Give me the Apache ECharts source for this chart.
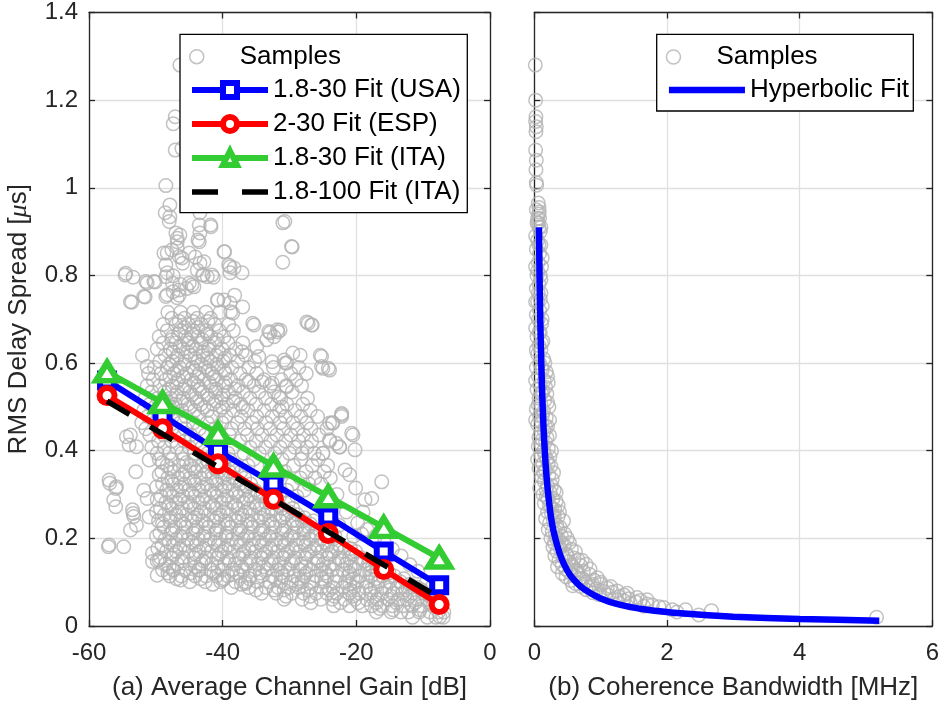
<!DOCTYPE html>
<html><head><meta charset="utf-8">
<script src="https://cdn.jsdelivr.net/npm/echarts@6/dist/echarts.min.js"></script>
<style>html,body{margin:0;padding:0;background:#fff}#c{width:942px;height:709px}</style>
</head><body><div id="c"></div>
<script>
// ---------- tick labels ----------
const yTicks = [0, 0.2, 0.4, 0.6, 0.8, 1, 1.2, 1.4];
const xTicksGain = [-60, -40, -20, 0];
const xTicksBw = [0, 2, 4, 6];

// ---------- panel (a): fits ----------
const fitGain = [-57.3, -49.0, -40.7, -32.4, -24.2, -15.9, -7.6];
const fitUSA = [0.56, 0.48, 0.40, 0.325, 0.25, 0.17, 0.093];
const fitESP = [0.526, 0.45, 0.37, 0.289, 0.211, 0.129, 0.049];
const fitITA = [0.58, 0.51, 0.44, 0.365, 0.295, 0.225, 0.155];
const fitITA100Gain = [-57.3, -7.6];
const fitITA100 = [0.513, 0.065];

// ---------- panel (a): samples (isolated points read individually) ----------
const gainSamplesSparse = [[-46.4,1.28],[-47.1,1.162],[-47.4,1.146],[-47.1,1.086],[-46.1,1.09],[-48.5,1.005],[-47.9,0.961],[-48.6,0.943],[-47.9,0.934],[-43.4,0.943],[-41.75,0.911],[-43.4,0.897],[-43.7,0.881],[-46.8,0.885],[-46.4,0.892],[-31,0.92],[-29.6,0.865],[-31,0.83],[-39.7,0.854],[-38.9,0.82],[-37.1,0.806],[-38.9,0.806],[-48.3,0.851],[-46.8,0.863],[-46.1,0.84],[-44.1,0.842],[-43.4,0.828],[-43.8,0.812],[-42.9,0.801],[-41.4,0.796],[-54.6,0.801],[-53.4,0.796],[-51.3,0.783],[-50.1,0.785],[-53.6,0.739],[-51.6,0.751],[-48.3,0.806],[-47.4,0.799],[-46.4,0.78],[-47.4,0.763],[-48.3,0.756],[-46.8,0.749],[-45.4,0.77],[-44.6,0.778],[-40.7,0.744],[-38.9,0.737],[-38.2,0.755],[-37,0.728],[-38.5,0.714],[-27.4,0.694],[-26.6,0.687],[-32.9,0.669],[-31.7,0.671],[-33.4,0.653],[-35.5,0.691],[-34.9,0.637],[-29.5,0.623],[-25.4,0.618],[-28.4,0.618],[-48,0.923],[-43.5,0.915],[-41.8,0.915],[-43.5,0.877],[-47,0.897],[-46.8,0.877],[-47.6,0.858],[-39.8,0.854],[-39.1,0.824],[-38.3,0.817],[-48.8,0.851],[-48.5,0.824],[-46.5,0.843],[-46,0.828],[-45,0.851],[-42.8,0.831],[-43,0.801],[-41.6,0.801],[-42.3,0.797],[-54.5,0.805],[-51.5,0.786],[-50.3,0.786],[-48.5,0.797],[-47.5,0.782],[-46.5,0.767],[-45,0.782],[-44.3,0.774],[-53.8,0.74],[-51.8,0.752],[-48.5,0.752],[-46.5,0.755],[-40.8,0.744],[-39.8,0.744],[-38.8,0.717],[-35.3,0.687],[-33.1,0.672],[-31.8,0.676],[-32.3,0.66],[-30.6,0.6],[-52,0.618],[-51.3,0.592],[-37.1,0.626],[-34.6,0.615],[-32.6,0.603],[-30.8,0.607],[-36.1,0.557],[-34.1,0.557],[-32.6,0.554],[-31.6,0.523],[-31.1,0.5],[-30.7,0.923],[-29.7,0.866],[-27.2,0.691],[-26.7,0.687],[-31.4,0.675],[-25.2,0.615],[-25,0.588],[-24,0.584],[-22.2,0.485],[-30.4,0.6],[-30.4,0.546],[-24.2,0.588],[-25.2,0.592],
[-53.8,0.436],[-54,0.413],[-53,0.352],[-57,0.333],[-56,0.314],[-56.3,0.288],[-56,0.272],[-53.5,0.265],[-53.3,0.25],[-53.8,0.219],[-57,0.185],[-54.8,0.181],[-50.5,0.166],[-49.5,0.151],[-49.8,0.116],[-46.3,0.105],[-50.5,0.147],[-51,0.379],[-51.8,0.31],[-51.3,0.291],[-51,0.249],[-36.6,0.097],[-32.3,0.082],[-40,0.105],[-43.5,0.128],[-54.4,0.432],[-52.9,0.409],[-56.9,0.326],[-55.9,0.318],[-57.1,0.181],[-52.9,0.23],[-53.4,0.257],[-47.4,0.128],
[-22.2,0.482],[-20.7,0.44],[-20.2,0.402],[-16.2,0.329],[-17.7,0.291],[-18.7,0.288],[-21,0.345],[-21.7,0.356],[-24,0.463],[-23,0.417],[-25,0.394],[-16.5,0.04],[-14.5,0.037],[-10.5,0.037],[-7.5,0.021],[-23.5,0.463],[-24,0.425],[-22.5,0.409],
[-21.5,0.26],[-19.8,0.235],[-18.4,0.22],[-22.6,0.23],[-20.4,0.205],[-17.1,0.205],[-15.8,0.19],[-14.6,0.175],[-19,0.26],[-13.3,0.16],[-12,0.14],[-10.8,0.125],[-9.5,0.1],[-8.6,0.09],[-23.8,0.27],[-22.9,0.3],[-20.1,0.315],[-19.2,0.21]];

// ---------- panel (a): samples in the dense cloud, read row by row: [delay spread, [gains...]] ----------
const gainSampleRows = [
 [0.020, [-11.6,-9.4,-8.1,-7.0]],
 [0.032, [-17.0,-14.8,-13.3,-12.2,-10.6,-9.0,-7.7,-6.9]],
 [0.046, [-23.4,-21.0,-19.1,-17.7,-16.1,-14.6,-13.0,-11.7,-10.2,-8.6,-7.4]],
 [0.053, [-26.8,-22.4,-19.7,-17.0,-14.0,-11.2,-8.9]],
 [0.061, [-30.8,-28.1,-25.3,-23.6,-21.8,-20.2,-18.4,-16.9,-15.3,-13.7,-12.4,-10.9,-9.5,-8.2]],
 [0.068, [-30.5,-26.9,-23.3,-20.5,-17.3,-14.8,-12.0,-9.0]],
 [0.075, [-34.2,-32.0,-29.6,-27.9,-26.0,-24.4,-22.9,-21.1,-19.6,-17.8,-16.2,-14.5,-13.1,-11.5,-9.9]],
 [0.082, [-35.0,-30.8,-27.3,-24.0,-20.9,-17.9,-15.0,-12.6,-10.2]],
 [0.088, [-38.7,-36.1,-33.5,-31.7,-30.1,-28.6,-26.8,-25.2,-23.5,-22.0,-20.3,-18.6,-17.2,-15.6,-13.9,-12.3,-10.8]],
 [0.095, [-41.5,-37.2,-29.0,-21.0,-12.0]],
 [0.101, [-44.9,-42.6,-40.3,-38.1,-36.6,-34.8,-33.0,-31.3,-29.7,-28.1,-26.5,-24.7,-23.2,-21.6,-19.9,-18.3,-16.7,-15.0,-13.4]],
 [0.108, [-46.9,-43.3,-39.8,-36.0,-32.1,-28.7,-25.2,-20.5,-17.1,-12.9]],
 [0.114, [-47.9,-46.2,-44.1,-42.5,-40.9,-39.2,-37.4,-35.9,-34.2,-32.6,-31.0,-29.3,-27.8,-26.0,-24.4,-22.9,-21.2,-19.5,-17.8,-16.0,-14.3]],
 [0.121, [-48.2,-44.8,-41.3,-37.9,-34.4,-31.2,-27.5,-24.6,-21.0,-18.0,-15.1]],
 [0.128, [-49.0,-47.3,-45.7,-43.6,-41.8,-40.1,-38.5,-36.9,-35.2,-33.4,-31.8,-30.2,-28.5,-26.9,-25.3,-23.6,-22.0,-20.3,-18.7,-17.0]],
 [0.135, [-48.0,-44.1,-40.7,-37.2,-33.9,-30.7,-27.6,-24.1,-20.9,-17.6]],
 [0.142, [-48.5,-46.8,-44.9,-43.2,-41.6,-39.7,-38.1,-36.4,-34.7,-33.1,-31.5,-29.8,-28.2,-26.4,-24.9,-23.2,-21.5,-19.9,-18.2,-16.4]],
 [0.149, [-49.8,-46.1,-42.9,-39.1,-35.9,-32.7,-29.5,-25.7,-22.1,-18.8]],
 [0.156, [-49.3,-47.6,-45.9,-44.3,-42.5,-40.8,-39.3,-37.5,-35.8,-34.2,-32.4,-30.9,-29.2,-27.6,-25.9,-24.3,-22.6,-21.0,-19.3]],
 [0.163, [-47.3,-44.0,-40.5,-37.0,-33.8,-30.6,-27.3,-24.0,-20.6]],
 [0.170, [-48.4,-46.9,-45.1,-43.5,-41.7,-40.1,-38.4,-36.8,-35.1,-33.5,-31.8,-30.2,-28.5,-26.9,-25.2,-23.6,-21.9,-20.1]],
 [0.177, [-49.7,-46.4,-42.8,-39.6,-36.1,-32.9,-29.6,-26.3,-23.0,-20.9]],
 [0.184, [-49.1,-47.4,-45.8,-44.0,-42.4,-40.7,-39.1,-37.4,-35.7,-34.1,-32.5,-30.8,-29.1,-27.6,-25.9,-24.3,-22.5]],
 [0.191, [-48.0,-44.6,-41.2,-37.9,-34.5,-31.2,-27.9,-24.7]],
 [0.198, [-48.6,-46.9,-45.2,-43.6,-41.9,-40.3,-38.6,-36.9,-35.3,-33.6,-32.0,-30.3,-28.7,-27.0,-25.3,-23.5]],
 [0.205, [-49.9,-46.3,-42.9,-39.5,-36.4,-33.1,-29.8,-26.6,-23.2]],
 [0.212, [-49.4,-47.7,-46.0,-44.4,-42.7,-41.0,-39.4,-37.7,-36.1,-34.4,-32.8,-31.1,-29.4,-27.8,-26.1,-24.6]],
 [0.219, [-47.5,-44.0,-40.9,-37.4,-34.0,-30.8,-27.8,-25.4]],
 [0.226, [-48.8,-47.1,-45.5,-43.8,-42.1,-40.5,-38.8,-37.2,-35.5,-33.9,-32.2,-30.6,-28.9,-27.2]],
 [0.233, [-49.0,-45.8,-42.5,-39.2,-35.8,-32.6,-29.3,-26.9]],
 [0.240, [-49.6,-47.9,-46.3,-44.6,-43.0,-41.3,-39.6,-38.0,-36.3,-34.7,-33.0,-31.4,-29.6,-28.1,-26.4]],
 [0.247, [-47.8,-44.2,-40.9,-37.6,-34.3,-31.0,-27.8]],
 [0.254, [-48.7,-47.0,-45.4,-43.7,-42.1,-40.4,-38.8,-37.1,-35.5,-33.8,-32.1,-30.5,-28.8]],
 [0.261, [-49.9,-46.5,-43.2,-39.9,-36.6,-33.2,-30.0]],
 [0.268, [-49.3,-47.6,-46.0,-44.3,-42.7,-41.0,-39.4,-37.7,-36.0,-34.4,-32.7,-31.1,-29.5]],
 [0.275, [-48.0,-44.9,-41.5,-38.1,-34.9,-31.6]],
 [0.282, [-48.5,-46.9,-45.2,-43.6,-41.9,-40.2,-38.6,-36.9,-35.3,-33.6,-32.0,-30.2]],
 [0.289, [-49.8,-46.4,-43.0,-39.8,-36.4,-33.0]],
 [0.296, [-49.2,-47.5,-45.9,-44.2,-42.6,-40.9,-39.3,-37.6,-35.9,-34.3,-31.5,-28.9]],
 [0.303, [-47.9,-44.6,-41.3,-38.0,-34.7]],
 [0.310, [-48.4,-46.8,-45.1,-43.5,-41.8,-40.1,-38.5,-36.8,-35.2,-33.0,-30.4,-27.8]],
 [0.317, [-49.9,-46.3,-43.0,-39.7,-36.4]],
 [0.324, [-49.0,-47.4,-45.7,-44.1,-42.4,-40.8,-39.1,-37.4,-35.8,-29.6,-27.1,-25.3]],
 [0.331, [-47.6,-44.3,-41.0,-37.8]],
 [0.338, [-48.2,-46.6,-44.9,-43.3,-41.6,-40.0,-38.4,-36.7,-31.8,-28.4,-26.2,-23.9]],
 [0.345, [-49.5,-46.0,-42.7,-39.6]],
 [0.352, [-49.1,-47.3,-45.6,-44.0,-42.3,-40.6,-39.0,-37.3,-30.7,-27.5,-24.8]],
 [0.359, [-47.8,-44.3,-41.1,-38.5]],
 [0.366, [-48.3,-46.5,-44.8,-43.1,-41.5,-39.8,-38.1,-36.2,-32.9,-29.4,-26.6,-24.3]],
 [0.373, [-49.0,-45.4,-42.1]],
 [0.380, [-49.5,-47.6,-45.9,-44.2,-42.4,-40.7,-38.9,-35.4,-31.1,-28.3,-25.7]],
 [0.394, [-49.8,-48.0,-46.1,-44.3,-42.2,-39.2,-36.8,-34.5,-32.2,-30.0,-28.1,-26.3,-25.0]],
 [0.408, [-50.6,-48.7,-46.9,-45.0,-43.1,-38.4,-35.9,-33.6,-31.4,-29.2,-27.4,-22.5]],
 [0.422, [-49.6,-47.6,-45.7,-43.9,-40.3,-37.4,-35.0,-32.8,-30.6,-28.6,-26.7,-24.0]],
 [0.436, [-50.9,-48.8,-46.6,-44.8,-42.6,-39.0,-36.3,-34.1,-31.9,-29.8,-27.9,-25.6,-20.5]],
 [0.450, [-51.5,-49.3,-47.6,-45.6,-43.5,-41.2,-38.7,-36.7,-34.8,-32.9,-30.9,-28.8,-26.8,-24.4]],
 [0.464, [-52.1,-50.1,-48.2,-46.3,-44.4,-42.3,-40.1,-37.8,-35.6,-33.5,-31.4,-29.5,-27.4,-23.6]],
 [0.478, [-51.2,-49.4,-47.5,-45.5,-43.6,-41.6,-39.5,-37.2,-34.9,-32.6,-30.6,-28.3,-25.8,-22.2]],
 [0.492, [-51.8,-49.9,-48.0,-46.1,-44.2,-42.3,-40.4,-38.4,-36.2,-33.8,-31.5,-29.2,-26.9]],
 [0.499, [-47.4,-44.9,-42.8,-40.0,-37.0]],
 [0.506, [-50.9,-49.0,-47.1,-45.2,-43.3,-41.4,-39.4,-37.3,-35.0,-32.7,-30.4,-28.0]],
 [0.513, [-48.4,-46.2,-43.8,-41.0,-38.4]],
 [0.520, [-51.6,-49.7,-47.8,-45.9,-44.0,-42.1,-40.2,-38.1,-35.9,-33.6,-31.3,-27.3]],
 [0.527, [-47.0,-44.6,-42.3,-39.9]],
 [0.534, [-50.6,-48.7,-46.8,-44.9,-43.0,-41.1,-39.1,-36.9,-34.6,-32.3,-29.6]],
 [0.541, [-48.0,-45.8,-43.4,-41.0,-38.2]],
 [0.548, [-51.3,-49.4,-47.5,-45.6,-43.7,-41.8,-39.8,-37.7,-35.3,-32.9,-30.5,-28.2]],
 [0.555, [-46.9,-44.3,-42.0,-39.6]],
 [0.562, [-50.4,-48.5,-46.6,-44.7,-42.8,-40.9,-38.8,-36.5,-33.8,-31.2,-29.0]],
 [0.569, [-47.9,-45.9,-43.8,-41.3]],
 [0.576, [-51.1,-49.2,-47.3,-45.4,-43.5,-41.6,-39.6,-37.4,-34.9,-29.8,-27.5]],
 [0.583, [-46.8,-44.2,-42.1,-39.8]],
 [0.590, [-50.2,-48.3,-46.4,-44.5,-42.6,-40.7,-38.6,-36.1,-32.4,-28.6]],
 [0.597, [-48.0,-45.8,-43.2,-40.9]],
 [0.604, [-49.4,-47.5,-45.6,-43.7,-41.8,-39.9,-37.7,-35.2]],
 [0.611, [-46.9,-44.1,-42.3,-39.7]],
 [0.618, [-48.6,-46.7,-44.8,-42.9,-41.0,-38.9,-36.6]],
 [0.625, [-47.4,-45.2,-43.0,-40.6]],
 [0.632, [-49.8,-47.8,-45.9,-44.0,-42.1,-40.1,-38.0]],
 [0.639, [-46.4,-44.5,-42.0]],
 [0.646, [-48.9,-47.0,-45.1,-43.2,-41.2,-39.2,-37.0]],
 [0.653, [-47.6,-45.3,-43.0,-40.8]],
 [0.660, [-49.5,-47.5,-45.6,-43.7,-41.8,-39.8]],
 [0.667, [-46.6,-44.6,-42.3]],
 [0.674, [-48.3,-46.3,-44.4,-42.5,-40.5,-38.4]],
 [0.681, [-45.7,-43.7]],
 [0.688, [-48.9,-47.0,-45.1,-43.2,-41.2,-39.1]],
 [0.695, [-46.5,-44.4,-42.2]],
 [0.702, [-47.6,-45.7,-43.8,-41.8]],
 [0.716, [-48.2,-46.3,-44.4,-42.5,-40.4]]
];

// ---------- panel (b): samples [bandwidth MHz, delay spread us] ----------
const bwSamples = [[0.015,1.28],[0.02,1.2],[0.025,1.162],[0.02,1.151],[0.03,1.139],[0.025,1.128],[0.02,1.086],[0.03,1.063],[0.025,1.041],[0.03,1.012],[0.035,1.006],
[0.06,0.965],[0.07,0.955],[0.075,0.945],[0.065,0.94],[0.08,0.93],[0.06,0.92],[0.07,0.91],
[0.04,0.92],[0.09,0.9],[0.05,0.88],[0.1,0.87],[0.03,0.86],[0.08,0.85],[0.06,0.83],[0.11,0.82],[0.04,0.8],[0.09,0.8],[0.07,0.78],[0.03,0.77],[0.1,0.76],[0.05,0.74],[0.12,0.73],[0.08,0.72],[0.03,0.71],[0.06,0.7],[0.11,0.69],[0.09,0.67],[0.04,0.66],[0.13,0.65],[0.07,0.64],[0.1,0.63],[0.05,0.62],[0.14,0.61],[0.08,0.6],
[0.03,0.59],[0.12,0.585],[0.18,0.58],[0.06,0.57],[0.15,0.56],[0.21,0.555],[0.09,0.55],[0.04,0.54],[0.13,0.535],[0.19,0.53],[0.07,0.52],[0.16,0.515],[0.1,0.505],[0.22,0.5],[0.03,0.495],[0.14,0.49],[0.08,0.48],[0.18,0.475],[0.11,0.465],[0.05,0.46],[0.2,0.455],[0.15,0.445],[0.09,0.44],[0.23,0.435],[0.12,0.425],[0.17,0.42],[0.06,0.41],[0.21,0.405],[0.14,0.4],
[0.235,0.386],[0.1,0.39],[0.19,0.38],[0.13,0.37],[0.25,0.365],[0.07,0.36],[0.17,0.355],[0.22,0.345],[0.11,0.34],[0.27,0.335],[0.15,0.33],[0.2,0.32],[0.08,0.315],[0.3,0.31],[0.24,0.305],[0.13,0.3],
[0.18,0.295],[0.28,0.29],[0.33,0.285],[0.15,0.28],[0.23,0.275],[0.31,0.265],[0.2,0.26],[0.26,0.255],[0.36,0.25],[0.17,0.245],[0.29,0.24],[0.23,0.235],[0.34,0.23],[0.39,0.225],[0.21,0.22],[0.27,0.215],[0.32,0.21],[0.41,0.205],[0.25,0.2],
[0.37,0.198],[0.53,0.19],[0.3,0.19],[0.45,0.185],[0.28,0.18],[0.39,0.178],[0.56,0.175],[0.34,0.17],[0.48,0.165],[0.31,0.16],[0.43,0.158],[0.6,0.155],[0.66,0.151],[0.37,0.15],[0.52,0.147],[0.78,0.141],[0.7,0.138],[0.42,0.14],[0.58,0.135],[0.47,0.13],[0.35,0.135],[0.63,0.128],[0.74,0.125],[0.53,0.122],[0.42,0.12],
[0.83,0.118],[0.6,0.115],[0.48,0.112],[0.68,0.108],[0.9,0.105],[0.55,0.104],[0.77,0.1],[0.62,0.097],[1.0,0.095],[0.85,0.092],[0.7,0.09],[1.1,0.087],[0.58,0.092],[0.93,0.085],[0.78,0.083],[1.18,0.077],[1.05,0.079],[0.88,0.076],[1.28,0.067],[0.97,0.072],[1.35,0.071],[1.12,0.07],
[1.53,0.055],[1.42,0.062],[1.25,0.06],[1.6,0.058],[1.78,0.048],[1.88,0.044],[1.7,0.05],[1.45,0.052],[2.08,0.037],[2.28,0.037],[2.48,0.025],[2.67,0.035],[5.16,0.02],[1.95,0.042],[2.15,0.032],[1.65,0.045],[1.35,0.058],
[0.03,0.95],[0.05,0.93],[0.1,0.91],[0.02,0.89],[0.07,0.87],[0.12,0.84],[0.02,0.82],[0.05,0.81],[0.1,0.79],[0.06,0.76],[0.02,0.74],[0.09,0.745],[0.12,0.7],[0.02,0.68],[0.07,0.67],[0.11,0.645],[0.03,0.63],[0.16,0.6],[0.11,0.59],[0.2,0.57],[0.02,0.56],[0.17,0.545],[0.11,0.53],[0.06,0.505],[0.2,0.51],[0.12,0.48],[0.23,0.47],[0.02,0.47],[0.17,0.455],[0.07,0.43],[0.19,0.43],[0.1,0.415],[0.26,0.4],[0.16,0.39],[0.05,0.38],[0.21,0.37],[0.29,0.35],[0.14,0.35],[0.26,0.32],[0.18,0.31],[0.33,0.305],[0.21,0.29],[0.36,0.275],[0.26,0.27],[0.38,0.26],[0.3,0.25],[0.44,0.24],[0.36,0.22],[0.46,0.21],[0.33,0.2],[0.5,0.2],[0.41,0.19],[0.62,0.17],[0.5,0.16],[0.72,0.15],[0.56,0.14],[0.84,0.13],[0.66,0.12],[0.95,0.11],[0.73,0.108],[1.0,0.1],[0.88,0.095],[1.15,0.09],[1.25,0.08],[1.4,0.075],[1.55,0.065],[1.7,0.06]];

// ---------- panel (b): hyperbolic fit ----------
const hypBw = [0.07, 0.08, 0.09, 0.1, 0.12, 0.14, 0.17, 0.2, 0.25, 0.3, 0.4, 0.5, 0.6, 0.75, 1.0, 1.3, 1.7, 2.2, 3.0, 4.0, 5.2];
const hypTau = [0.91, 0.79, 0.70, 0.63, 0.525, 0.45, 0.37, 0.315, 0.25, 0.21, 0.158, 0.126, 0.105, 0.084, 0.063, 0.048, 0.037, 0.029, 0.021, 0.016, 0.012];

// ---------- build ----------
const FONT = 'Liberation Sans';
const AX = '#262626';
const GRIDC = '#e0e0e0';
const GREY = '#b3b3b3';
const BLUE = '#0000ff', RED = '#ff0000', GREEN = '#33cc33';

const gainSamples = gainSamplesSparse.slice();
gainSampleRows.forEach(r => r[1].forEach(x => gainSamples.push([x, r[0]])));
const zip = (a, b) => a.map((v, i) => [v, b[i]]);

const G0 = {left: 89, top: 12.5, width: 401, height: 613.5};
const G1 = {left: 534.3, top: 12.5, width: 401.7, height: 613.5};

function xAx(gridIndex, ticks, name, pos) {
  const main = pos === 'bottom';
  return {
    type: 'value', gridIndex, position: pos,
    min: ticks[0], max: ticks[ticks.length - 1], interval: ticks[1] - ticks[0],
    name: main ? name : '', nameLocation: 'middle', nameGap: 49,
    nameTextStyle: {fontFamily: FONT, fontSize: 26, color: AX},
    axisLine: {show: true, onZero: false, lineStyle: {color: AX, width: 1.3}},
    axisTick: {show: true, inside: true, length: 6, lineStyle: {color: AX, width: 1.3}},
    axisLabel: {show: main, fontFamily: FONT, fontSize: 24, color: AX, margin: 15},
    splitLine: {show: main, lineStyle: {color: GRIDC, width: 1.3}}
  };
}
function yAx(gridIndex, ticks, name, pos, labels) {
  const main = pos === 'left';
  return {
    type: 'value', gridIndex, position: pos,
    min: ticks[0], max: ticks[ticks.length - 1], interval: 0.2,
    name: name, nameLocation: 'middle', nameGap: 57,
    nameTextStyle: {fontFamily: FONT, fontSize: 26, color: AX,
      rich: {m: {fontFamily: 'Liberation Serif', fontStyle: 'italic', fontSize: 26, color: AX}}},
    axisLine: {show: true, onZero: false, lineStyle: {color: AX, width: 1.3}},
    axisTick: {show: true, inside: true, length: 6, lineStyle: {color: AX, width: 1.3}},
    axisLabel: {show: labels, fontFamily: FONT, fontSize: 24, color: AX, margin: 11},
    splitLine: {show: main, lineStyle: {color: GRIDC, width: 1.3}}
  };
}

const sampleStyle = {color: 'rgba(0,0,0,0)', borderColor: GREY, borderWidth: 1.5};

const legendText = {fontFamily: FONT, fontSize: 26, color: '#000', lineHeight: 34};
function legend(left, top, items, itemHeight) {
  return {
    orient: 'vertical', left, top, padding: 0, itemGap: 0,
    itemWidth: 76, itemHeight, selectedMode: false,
    textStyle: legendText, z: 20,
    lineStyle: {width: 6},
    data: items
  };
}

const option = {
  animation: false,
  backgroundColor: '#fff',
  grid: [G0, G1],
  xAxis: [
    xAx(0, xTicksGain, '(a) Average Channel Gain [dB]', 'bottom'),
    xAx(0, xTicksGain, '', 'top'),
    xAx(1, xTicksBw, '(b) Coherence Bandwidth [MHz]', 'bottom'),
    xAx(1, xTicksBw, '', 'top')
  ],
  yAxis: [
    yAx(0, yTicks, 'RMS Delay Spread [{m|μ}s]', 'left', true),
    yAx(0, yTicks, '', 'right', false),
    yAx(1, yTicks, '', 'left', false),
    yAx(1, yTicks, '', 'right', false)
  ],
  graphic: [
    {type: 'rect', z: 15, shape: {x: 180, y: 34.3, width: 287.3, height: 178.4},
     style: {fill: '#fff', stroke: '#000', lineWidth: 1.3}},
    {type: 'rect', z: 15, shape: {x: 656.7, y: 34.3, width: 256.6, height: 76.7},
     style: {fill: '#fff', stroke: '#000', lineWidth: 1.3}}
  ],
  legend: [
    legend(189, 39.7, [{name: 'Samples', icon: 'circle', itemStyle: sampleStyle}], 14),
    legend(189, 73, [
      {name: '1.8-30 Fit (USA)', itemStyle: {color: '#fff', borderColor: BLUE, borderWidth: 6}},
      {name: '2-30 Fit (ESP)', itemStyle: {color: '#fff', borderColor: RED, borderWidth: 6}},
      {name: '1.8-30 Fit (ITA)', itemStyle: {color: '#fff', borderColor: GREEN, borderWidth: 6}},
      {name: '1.8-100 Fit (ITA)', itemStyle: {color: 'rgba(0,0,0,0)', borderColor: 'rgba(0,0,0,0)', borderWidth: 0}, lineStyle: {width: 5.5}}
    ], 17.5),
    legend(665.7, 40, [{name: 'Samples ', icon: 'circle', itemStyle: sampleStyle}], 14),
    legend(665.7, 73, [{name: 'Hyperbolic Fit', itemStyle: {color: 'rgba(0,0,0,0)', borderColor: 'rgba(0,0,0,0)', borderWidth: 0}, lineStyle: {width: 6.5}}], 17.5)
  ],
  series: [
    {name: 'Samples', type: 'scatter', xAxisIndex: 0, yAxisIndex: 0, symbol: 'circle', symbolSize: 13.5,
     itemStyle: sampleStyle, data: gainSamples, z: 2, large: false},
    {name: '1.8-30 Fit (USA)', type: 'line', xAxisIndex: 0, yAxisIndex: 0, data: zip(fitGain, fitUSA),
     symbol: 'rect', symbolSize: 14, lineStyle: {color: BLUE, width: 6},
     itemStyle: {color: '#fff', borderColor: BLUE, borderWidth: 6}, z: 3},
    {name: '2-30 Fit (ESP)', type: 'line', xAxisIndex: 0, yAxisIndex: 0, data: zip(fitGain, fitESP),
     symbol: 'circle', symbolSize: 15, lineStyle: {color: RED, width: 6},
     itemStyle: {color: '#fff', borderColor: RED, borderWidth: 6}, z: 4},
    {name: '1.8-30 Fit (ITA)', type: 'line', xAxisIndex: 0, yAxisIndex: 0, data: zip(fitGain, fitITA),
     symbol: 'triangle', symbolSize: [22, 18], lineStyle: {color: GREEN, width: 6},
     itemStyle: {color: '#fff', borderColor: GREEN, borderWidth: 6}, z: 5},
    {name: '1.8-100 Fit (ITA)', type: 'line', xAxisIndex: 0, yAxisIndex: 0, data: zip(fitITA100Gain, fitITA100),
     symbol: 'none', lineStyle: {color: '#000', width: 5.5, type: [26, 24], cap: 'butt'},
     itemStyle: {color: '#000'}, z: 6},
    {name: 'Samples ', type: 'scatter', xAxisIndex: 2, yAxisIndex: 2, symbol: 'circle', symbolSize: 13.5,
     itemStyle: sampleStyle, data: bwSamples, z: 2},
    {name: 'Hyperbolic Fit', type: 'line', xAxisIndex: 2, yAxisIndex: 2, data: zip(hypBw, hypTau),
     symbol: 'none', smooth: 0.2, lineStyle: {color: BLUE, width: 6.5}, itemStyle: {color: BLUE}, z: 3}
  ]
};

const chart = echarts.init(document.getElementById('c'), null, {renderer: 'canvas'});
chart.setOption(option);
</script>
</body></html>
